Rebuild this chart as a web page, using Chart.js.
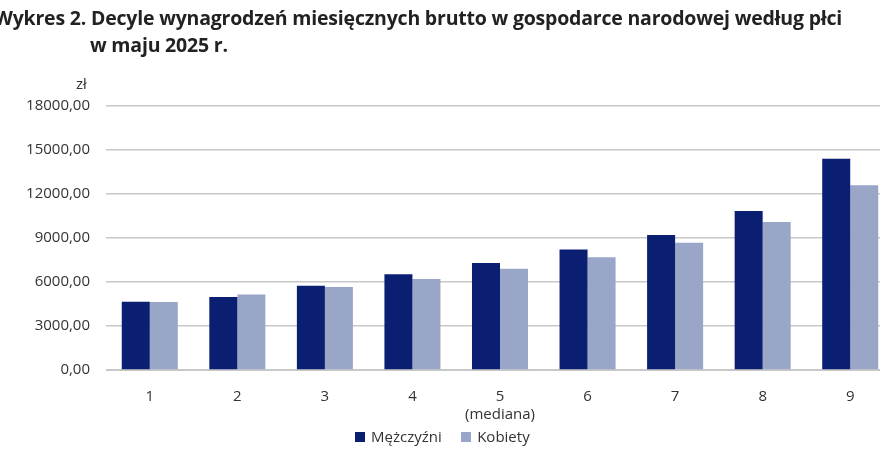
<!DOCTYPE html>
<html><head><meta charset="utf-8">
<script src="https://cdn.jsdelivr.net/npm/chart.js@4/dist/chart.umd.min.js"></script>
<style>
body{margin:0;width:880px;height:462px;overflow:hidden;position:relative;background:#fff;font-family:"Open Sans",sans-serif}
#wrap{position:absolute;left:0;top:0;width:894px;height:462px}
.t{position:absolute;font-weight:bold;font-size:19.5px;color:#222;white-space:nowrap;letter-spacing:-0.2px}
#zl{position:absolute;left:76px;top:73px;font-size:15px;color:#333}
#leg{position:absolute;top:426px;left:355px;font-size:15px;color:#333}
#leg span{display:inline-block;width:10px;height:10px;margin:0 6px 0 0}
</style></head><body>
<div id="wrap"><canvas id="c" width="894" height="462"></canvas></div>
<div class="t" style="left:-6px;top:4px">Wykres 2. Decyle wynagrodzeń miesięcznych brutto w gospodarce narodowej według płci</div>
<div class="t" style="left:90px;top:31px">w maju 2025 r.</div>
<div id="zl">zł</div>
<div id="leg"><span style="background:#0b1f72"></span>Mężczyźni&nbsp;&nbsp;&nbsp;&nbsp;&nbsp;<span style="background:#9aa6c8"></span>Kobiety</div>
<script>
// decile labels
const categories = ['1', '2', '3', '4', ['5', '(mediana)'], '6', '7', '8', '9'];
const men = [4660, 4980, 5750, 6520, 7290, 8220, 9200, 10840, 14400];
const women = [4640, 5140, 5660, 6200, 6900, 7680, 8680, 10090, 12600];
const yTicks = [0, 3000, 6000, 9000, 12000, 15000, 18000];

new Chart(document.getElementById('c'), {
    type: 'bar',
    data: {
        labels: categories,
        datasets: [
            { label: 'Mężczyźni', data: men, backgroundColor: '#0b1f72' },
            { label: 'Kobiety', data: women, backgroundColor: '#9aa6c8' }
        ]
    },
    options: {
        responsive: false,
        animation: false,
        layout: { padding: { top: 106, left: 0, right: 0, bottom: 0 } },
        plugins: { legend: { display: false }, tooltip: { enabled: false } },
        datasets: { bar: { categoryPercentage: 0.64, barPercentage: 1 } },
        scales: {
            x: {
                grid: { display: false },
                border: { color: '#c8c8c8' },
                ticks: { color: '#333', font: { family: 'Open Sans', size: 15 }, padding: 10, maxRotation: 0, lineHeight: 1.1 },
                afterFit: s => { s.height = 92; }
            },
            y: {
                min: 0, max: 18000,
                afterBuildTicks: s => { s.ticks = yTicks.map(v => ({ value: v })); },
                grid: { color: '#c8c8c8', lineWidth: 1.5, drawTicks: false },
                border: { display: false },
                ticks: {
                    color: '#333', font: { family: 'Open Sans', size: 15 }, padding: 16,
                    callback: v => v.toFixed(2).replace('.', ',')
                },
                afterFit: s => { s.width = 106; }
            }
        }
    }
});
</script>
</body></html>
